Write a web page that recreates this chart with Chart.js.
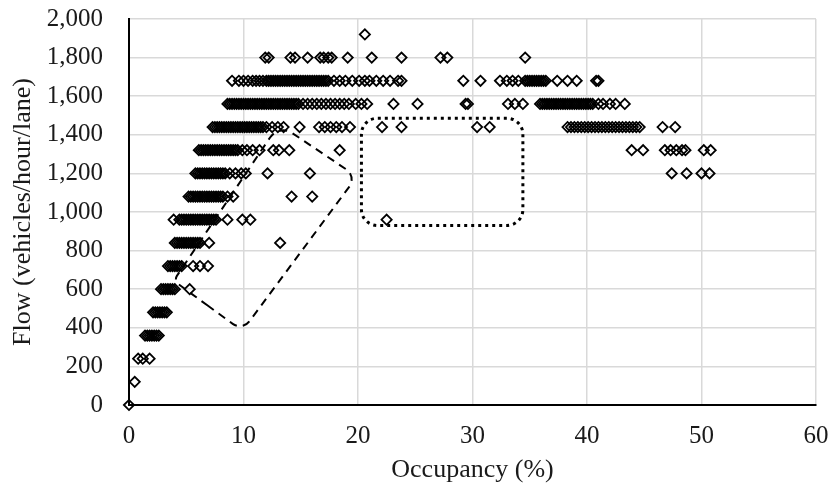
<!DOCTYPE html>
<html>
<head>
<meta charset="utf-8">
<script src="https://cdn.jsdelivr.net/npm/chart.js@4.4.0/dist/chart.umd.min.js"></script>
<style>
  html, body { margin: 0; padding: 0; background: #fff; }
  #flowChart { display: block; }
</style>
</head>
<body>
<canvas id="flowChart" width="832" height="492"></canvas>
<script>
// flow levels (veh/h/lane) - detector counts come in steps of 120
const flowLevels = [0, 120, 240, 360, 480, 600, 720, 840, 960, 1080, 1200, 1320, 1440, 1560, 1680, 1800, 1920];

// occupancy (%) observed at each flow level
const occ0 = [0.0];
const occ120 = [0.5];
const occ240 = [0.8, 1.2, 1.8];
const occ360 = [1.4, 1.6, 1.8, 2.0, 2.2, 2.4, 2.6];
const occ480 = [2.1, 2.3, 2.5, 2.7, 2.9, 3.1, 3.3];
const occ600 = [2.8, 3.0, 3.2, 3.4, 3.6, 3.8, 4.0, 5.3];
const occ720 = [3.4, 3.6, 3.8, 4.0, 4.2, 4.4, 4.6, 5.6, 6.2, 6.9];
const occ840 = [4.0, 4.2, 4.4, 4.6, 4.8, 5.0, 5.2, 5.4, 5.6, 5.8, 6.0, 6.2, 7.0, 13.2];
const occ960 = [3.9, 4.4, 4.6, 4.8, 5.0, 5.2, 5.4, 5.6, 5.8, 6.0, 6.2, 6.4, 6.6, 6.8, 7.0, 7.2, 7.4, 7.6,
  8.6, 9.9, 10.6, 22.5];
const occ1080 = [5.2, 5.4, 5.6, 5.8, 6.0, 6.2, 6.4, 6.6, 6.8, 7.0, 7.2, 7.4, 7.6, 7.8, 8.0, 8.2,
  8.6, 9.1, 14.2, 16.0];
const occ1200 = [5.8, 6.0, 6.2, 6.4, 6.6, 6.8, 7.0, 7.2, 7.4, 7.6, 7.8, 8.0, 8.2, 8.4,
  8.8, 9.3, 9.8, 10.2, 12.1, 15.8, 47.4, 48.7, 50.0, 50.7];
const occ1320 = [6.1, 6.3, 6.5, 6.7, 6.9, 7.1, 7.3, 7.5, 7.7, 7.9, 8.1, 8.3, 8.5, 8.7, 8.9, 9.1, 9.3, 9.5,
  9.9, 10.3, 10.8, 11.4, 12.6, 13.1, 14.0, 18.4,
  43.9, 44.9, 46.8, 47.3, 47.8, 48.3, 48.6, 50.2, 50.8];
const occ1440 = [7.3, 7.5, 7.7, 7.9, 8.1, 8.3, 8.5, 8.7, 8.9, 9.1, 9.3, 9.5, 9.7, 9.9, 10.1, 10.3, 10.5,
  10.7, 10.9, 11.1, 11.3, 11.5, 11.7,
  12.0, 12.5, 13.0, 13.5, 14.9, 16.6, 17.1, 17.6, 18.1, 18.6, 19.3, 22.1, 23.8, 30.4, 31.5,
  38.3, 38.6, 38.9, 39.2, 39.5, 39.8, 40.1, 40.4, 40.7, 41.0, 41.3, 41.6, 41.9, 42.2, 42.5, 42.8,
  43.1, 43.4, 43.7, 44.0, 44.3, 44.6, 46.6, 47.7];
const occ1560 = [8.6, 8.8, 9.0, 9.2, 9.4, 9.6, 9.8, 10.0, 10.2, 10.4, 10.6, 10.8, 11.0, 11.2, 11.4, 11.6,
  11.8, 12.0, 12.2, 12.4, 12.6, 12.8, 13.0, 13.2, 13.4, 13.6, 13.8, 14.0, 14.2, 14.4, 14.6, 14.8,
  15.2, 15.6, 16.0, 16.4, 16.8, 17.2, 17.6, 18.0, 18.4, 18.8, 19.2, 19.8, 20.3, 20.8,
  23.1, 25.2, 29.4, 29.6, 33.1, 33.7, 34.4,
  35.9, 36.1, 36.3, 36.5, 36.7, 36.9, 37.1, 37.3, 37.5, 37.7, 37.9, 38.1, 38.3, 38.5, 38.7, 38.9,
  39.1, 39.3, 39.5, 39.7, 39.9, 40.1, 40.3, 40.5, 41.0, 41.4, 42.0, 42.5, 43.3];
const occ1680 = [9.0, 9.6, 10.0, 10.4, 10.8, 11.1, 11.4, 11.7, 12.0,
  12.2, 12.4, 12.6, 12.8, 13.0, 13.2, 13.4, 13.6, 13.8, 14.0, 14.2, 14.4, 14.6, 14.8, 15.0, 15.2,
  15.4, 15.6, 15.8, 16.0, 16.2, 16.4, 16.6, 16.8, 17.0, 17.2, 17.4,
  17.9, 18.4, 18.9, 19.5, 20.1, 20.6, 21.0, 21.6, 22.2, 22.8, 23.5, 23.8, 29.2, 30.7,
  32.4, 33.0, 33.5, 34.0, 34.6, 34.8, 35.0, 35.2, 35.4, 35.6, 35.8, 36.0, 36.2, 36.4,
  37.4, 38.3, 39.1, 40.8, 41.0];
const occ1800 = [11.9, 12.2, 14.1, 14.5, 15.6, 16.7, 17.0, 17.4, 17.7, 19.1, 21.2, 23.8, 27.2, 27.8, 34.6];
const occ1920 = [20.6];

const occupancyRows = [occ0, occ120, occ240, occ360, occ480, occ600, occ720, occ840, occ960,
  occ1080, occ1200, occ1320, occ1440, occ1560, occ1680, occ1800, occ1920];

// axis ranges
const xTicks = [0, 10, 20, 30, 40, 50, 60];
const yMax = 2000, yStep = 200;

// outlined regions, in data units (occupancy %, flow)
const dashedZoneX = [3.9, 13.1, 19.9, 9.9];
const dashedZoneY = [644, 1455, 1184, 384];
const dashedZoneR = [6, 16, 12, 12];
const dottedBoxX = [20.3, 34.4];
const dottedBoxY = [930, 1486];

// build the scatter points
var points = [];
for (var i = 0; i < flowLevels.length; i++) {
  occupancyRows[i].forEach(function (o) {
    points.push({ x: o, y: flowLevels[i] });
  });
}

// rounded outline through a list of pixel corners
function roundedOutline(ctx, pts, radii) {
  var n = pts.length;
  var last = pts[n - 1];
  ctx.beginPath();
  ctx.moveTo((last.x + pts[0].x) / 2, (last.y + pts[0].y) / 2);
  for (var k = 0; k < n; k++) {
    var a = pts[k], b = pts[(k + 1) % n];
    ctx.arcTo(a.x, a.y, b.x, b.y, radii[k]);
  }
  ctx.closePath();
}

const zonesPlugin = {
  id: 'zones',
  afterDatasetsDraw(chart) {
    const ctx = chart.ctx;
    const xs = chart.scales.x, ys = chart.scales.y;
    ctx.save();
    ctx.strokeStyle = '#000';

    // dashed region
    var poly = dashedZoneX.map(function (v, k) {
      return { x: xs.getPixelForValue(v), y: ys.getPixelForValue(dashedZoneY[k]) };
    });
    ctx.lineWidth = 2;
    ctx.setLineDash([8, 6]);
    roundedOutline(ctx, poly, dashedZoneR);
    ctx.stroke();

    // dotted box
    var x0 = xs.getPixelForValue(dottedBoxX[0]), x1 = xs.getPixelForValue(dottedBoxX[1]);
    var y0 = ys.getPixelForValue(dottedBoxY[1]), y1 = ys.getPixelForValue(dottedBoxY[0]);
    var box = [{ x: x0, y: y0 }, { x: x1, y: y0 }, { x: x1, y: y1 }, { x: x0, y: y1 }];
    ctx.lineWidth = 3;
    ctx.setLineDash([3, 4]);
    roundedOutline(ctx, box, [16, 16, 16, 16]);
    ctx.stroke();
    ctx.restore();
  }
};

const serif = 'Liberation Serif, Times New Roman, serif';
const inkColor = '#1a1a1a';
const gridColor = '#d9d9d9';

new Chart(document.getElementById('flowChart'), {
  type: 'scatter',
  data: {
    datasets: [{
      data: points,
      pointStyle: 'rectRot',
      pointRadius: 5.1,
      pointBorderWidth: 1.8,
      pointBorderColor: '#000',
      pointBackgroundColor: 'rgba(0,0,0,0)',
      clip: false
    }]
  },
  options: {
    responsive: false,
    animation: false,
    events: [],
    layout: { padding: { top: 19, right: 16, left: 0, bottom: 0 } },
    plugins: {
      legend: { display: false },
      tooltip: { enabled: false }
    },
    scales: {
      x: {
        type: 'linear',
        min: xTicks[0],
        max: xTicks[xTicks.length - 1],
        afterBuildTicks: function (scale) {
          scale.ticks = xTicks.map(function (v) { return { value: v }; });
        },
        // fixed axis band; label overhang is covered by the layout padding
        afterFit: function (scale) {
          scale.height = 87;
          scale.paddingLeft = 0;
          scale.paddingRight = 0;
        },
        ticks: { font: { family: serif, size: 25 }, color: inkColor, padding: 16 },
        grid: { color: gridColor, lineWidth: 1.5, drawTicks: false },
        border: { color: '#000', width: 2 },
        title: {
          display: true,
          text: 'Occupancy (%)',
          font: { family: serif, size: 26 },
          color: inkColor,
          padding: { top: 0, bottom: 6 }
        }
      },
      y: {
        min: 0,
        max: yMax,
        afterFit: function (scale) {
          scale.width = 129;
          scale.paddingTop = 0;
          scale.paddingBottom = 0;
        },
        ticks: {
          stepSize: yStep,
          font: { family: serif, size: 25 },
          color: inkColor,
          padding: 26,
          callback: function (v) { return v.toLocaleString('en-US'); }
        },
        grid: { color: gridColor, lineWidth: 1.5, drawTicks: false },
        border: { color: '#000', width: 2 },
        title: {
          display: true,
          text: 'Flow (vehicles/hour/lane)',
          font: { family: serif, size: 26 },
          color: inkColor,
          padding: { top: 8, bottom: 0 }
        }
      }
    }
  },
  plugins: [zonesPlugin]
});
</script>
</body>
</html>
